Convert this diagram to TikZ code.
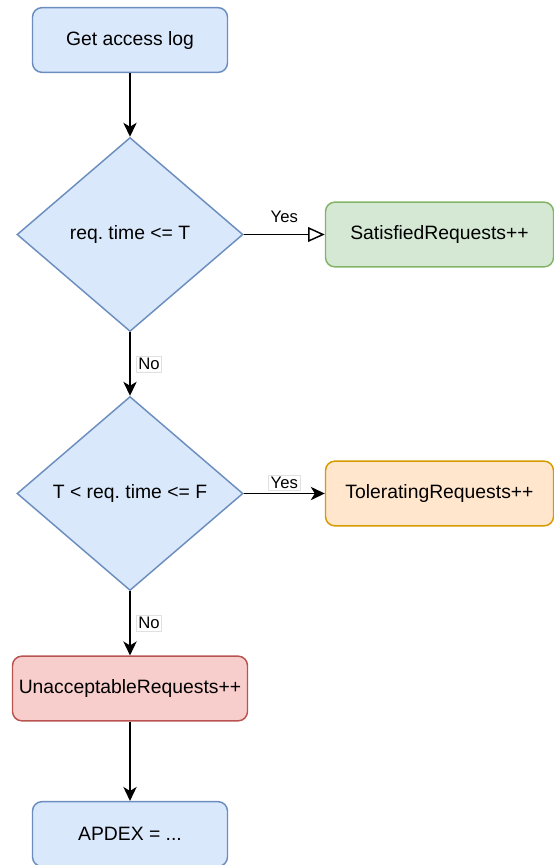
\documentclass[tikz,border=0pt]{standalone}
\usepackage{fontspec}
\setmainfont{Liberation Sans}
\usepackage{tikz}
\usetikzlibrary{arrows.meta}
\usetikzlibrary{shapes.geometric}
\usetikzlibrary{positioning}
\frenchspacing
\definecolor{bfill}{HTML}{DAE8FC}
\definecolor{bline}{HTML}{6C8EBF}
\definecolor{gfill}{HTML}{D5E8D4}
\definecolor{gline}{HTML}{82B366}
\definecolor{ofill}{HTML}{FFE6CC}
\definecolor{oline}{HTML}{D79B00}
\definecolor{rfill}{HTML}{F8CECC}
\definecolor{rline}{HTML}{B85450}
\tikzset{box/.style = {rectangle, rounded corners = 7pt, draw, line width = 1.1pt,
                       inner sep = 0, minimum height = 48.5pt,
                       font = \fontsize{14.5}{17}\selectfont}}
\tikzset{decide/.style = {diamond, draw = bline, fill = bfill, line width = 1.1pt,
                          aspect = 1.165, inner sep = 0,
                          minimum width = 169.5pt, minimum height = 145.5pt,
                          font = \fontsize{14.5}{17}\selectfont}}
\tikzset{flow/.style = {line width = 1.1pt, -{Stealth[length = 10.5pt, width = 10pt, inset = 3pt]}}}
\tikzset{hollow/.style = {line width = 1.1pt, -{Triangle[open, length = 12.5pt, width = 11pt]}}}
\tikzset{lbl/.style = {fill = white, draw = black!12, line width = 0.4pt, inner sep = 1.5pt,
                       font = \fontsize{12.5}{14}\selectfont}}

\begin{document}
\begin{tikzpicture}[x = 0.75pt, y = -0.75pt]
      \useasboundingbox (0, 0) rectangle (554, 865);

      \node [box, draw = bline, fill = bfill, minimum width = 146.25pt] (log) at (130, 40) {Get access log};
      \node [decide] (check1) at (130, 234.5) {req. time <= T};
      \node [box, draw = gline, fill = gfill, minimum width = 171pt] (sat) at (439.5, 234.5) {SatisfiedRequests++};
      \node [decide] (check2) at (130, 493.5) {T < req. time <= F};
      \node [box, draw = oline, fill = ofill, minimum width = 171pt] (tol) at (439.5, 493.5) {ToleratingRequests++};
      \node [box, draw = rline, fill = rfill, minimum width = 176.25pt] (bad) at (130, 688.5) {UnacceptableRequests++};
      \node [box, draw = bline, fill = bfill, minimum width = 146.25pt] (apdex) at (130, 834) {APDEX = ...};

      \draw [flow] (log) -- (check1);
      \draw [hollow] (check1.east) -- (sat.west)
            node [midway, above = 5pt, font = \fontsize{12.5}{14}\selectfont] {Yes};
      \draw [flow] (check1) -- (check2) node [lbl, midway, right = 4.5pt] {No};
      \draw [flow] (check2.east) -- (tol.west) node [lbl, midway, above = 2pt] {Yes};
      \draw [flow] (check2) -- (bad) node [lbl, midway, right = 4.5pt] {No};
      \draw [flow] (bad) -- (apdex);
\end{tikzpicture}
\end{document}
